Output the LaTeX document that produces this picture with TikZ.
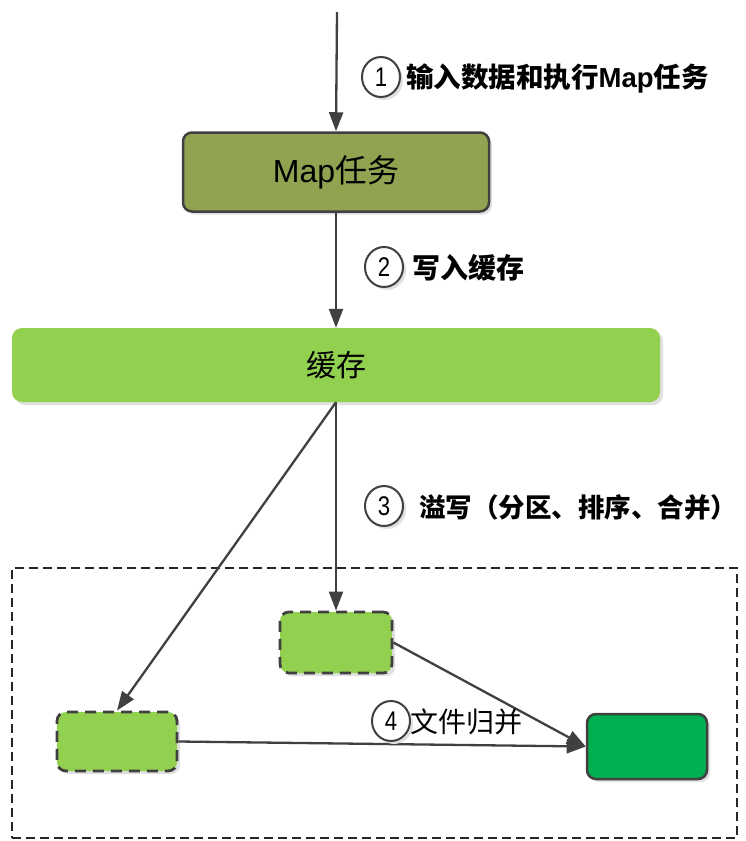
\documentclass[tikz,border=0pt]{standalone}
\usepackage{fontspec}
\setmainfont{Liberation Sans}
\newfontfamily\cjk{Noto Sans CJK SC}
\usetikzlibrary{arrows.meta,shapes.geometric,shadows}
\definecolor{lc}{HTML}{404040}
\definecolor{olivebox}{HTML}{8FA350}
\definecolor{cachebox}{HTML}{92D050}
\definecolor{darkbox}{HTML}{00B050}
\newcommand{\digitx}[1]{\scalebox{0.82}[1]{#1}}
\tikzset{
  arr/.style={draw=lc, line width=2.3pt, -{Triangle[length=19pt,width=14pt]}},
  shad/.style={drop shadow={shadow xshift=3pt, shadow yshift=-3pt, fill=black!12, opacity=1}},
  solidbox/.style={rounded corners=9pt, draw=lc, line width=2.5pt, inner sep=0pt, shad},
  dashbox/.style={rounded corners=9pt, draw=lc, line width=2.8pt, dash pattern=on 11pt off 7pt, fill=cachebox, inner sep=0pt, shad},
  num/.style={ellipse, draw=lc, line width=2pt, fill=white, minimum width=38pt, minimum height=40pt, inner sep=0pt, font=\fontsize{27}{27}\selectfont, shad},
  lab/.style={anchor=west, inner sep=0pt, text=black},
}
\begin{document}
\begin{tikzpicture}[x=1pt,y=-1pt]
\useasboundingbox (0,0) rectangle (745,841);
% outer dashed frame
\node[draw=black!85, line width=1.4pt, dash pattern=on 9pt off 5pt, minimum width=725pt, minimum height=270pt, inner sep=0pt] (outer) at (374.5,703) {};
% boxes
\node[solidbox, fill=olivebox, minimum width=306pt, minimum height=79pt] (map) at (336,172) {\fontsize{32}{32}\selectfont Map{\cjk 任务}};
\node[fill=cachebox, rounded corners=10pt, minimum width=648pt, minimum height=74pt, inner sep=0pt, shad] (cache) at (336,365) {\cjk\fontsize{30}{30}\selectfont 缓存};
\node[dashbox, minimum width=112pt, minimum height=61pt] (A) at (336,642.5) {};
\node[dashbox, minimum width=120pt, minimum height=59pt] (B) at (117,741.5) {};
\node[solidbox, fill=darkbox, minimum width=120pt, minimum height=65pt] (C) at (647,746.5) {};
\coordinate (start) at (337,12);
% connectors
\draw[arr] (start) -- (map.north);
\draw[arr] (map.south) -- (cache.north);
\draw[arr] (cache.south) -- (A.north);
\draw[arr] (cache.south) -- (B.north);
\draw[arr] (A.east) -- (C.west);
\draw[arr] (B.east) -- (C.west);
% labels
\node[num] (n1) at (381,77) {\digitx{1}};
\node[lab, font=\cjk\bfseries\fontsize{27.5}{28}\selectfont] (t1) at (406,78) {输入数据和执行{\rmfamily Map}任务};
\node[num] (n2) at (384,267) {\digitx{2}};
\node[lab, font=\cjk\bfseries\fontsize{28}{28}\selectfont] (t2) at (412,268) {写入缓存};
\node[num] (n3) at (384,506) {\digitx{3}};
\node[lab, font=\cjk\bfseries\fontsize{26.5}{28}\selectfont] (t3) at (419,507) {溢写（分区、排序、合并）};
\node[num] (n4) at (391,721) {\digitx{4}};
\node[lab, font=\cjk\fontsize{28}{28}\selectfont] (t4) at (410,722) {文件归并};
\end{tikzpicture}
\end{document}
